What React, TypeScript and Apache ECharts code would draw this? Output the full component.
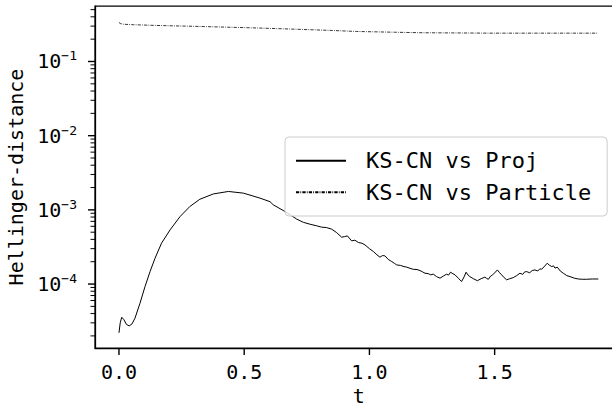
import React, { useEffect, useRef } from "react";
import * as echarts from "echarts";

// ---- data ----
const tProj = [
  0.000, 0.005, 0.011, 0.020, 0.030, 0.041, 0.052, 0.064, 0.084, 0.104,
  0.124, 0.144, 0.170, 0.204, 0.244, 0.283, 0.323, 0.377, 0.437, 0.497,
  0.563, 0.603, 0.616, 0.663, 0.690, 0.710, 0.736, 0.763, 0.789, 0.809,
  0.829, 0.849, 0.869, 0.889, 0.900, 0.912, 0.929, 0.942, 0.956, 0.970,
  0.982, 1.000, 1.016, 1.030, 1.042, 1.052, 1.062, 1.075, 1.089, 1.100,
  1.109, 1.125, 1.138, 1.149, 1.162, 1.175, 1.190, 1.202, 1.212, 1.222,
  1.235, 1.245, 1.255, 1.268, 1.282, 1.295, 1.308, 1.316, 1.324, 1.333,
  1.342, 1.355, 1.368, 1.378, 1.386, 1.394, 1.401, 1.415, 1.431, 1.446,
  1.461, 1.468, 1.475, 1.484, 1.492, 1.503, 1.511, 1.520, 1.528, 1.538,
  1.548, 1.560, 1.574, 1.588, 1.601, 1.612, 1.620, 1.628, 1.640, 1.650,
  1.661, 1.672, 1.680, 1.688, 1.700, 1.710, 1.718, 1.728, 1.735, 1.741,
  1.750, 1.762, 1.774, 1.788, 1.801, 1.818, 1.834, 1.850, 1.867, 1.890,
  1.914,
];
const hdProj = [
  2.2e-5, 3.0e-5, 3.57e-5, 3.3e-5, 2.85e-5, 2.73e-5, 2.9e-5, 3.47e-5, 5.52e-5, 9.25e-5,
  1.47e-4, 2.23e-4, 3.56e-4, 5.37e-4, 8.13e-4, 1.11e-3, 1.39e-3, 1.64e-3, 1.77e-3, 1.68e-3,
  1.44e-3, 1.29e-3, 1.17e-3, 9.5e-4, 8.3e-4, 7.5e-4, 6.8e-4, 6.4e-4, 6.1e-4, 5.85e-4,
  5.77e-4, 5.5e-4, 4.94e-4, 4.28e-4, 4.35e-4, 4.46e-4, 3.82e-4, 3.9e-4, 3.63e-4, 3.55e-4,
  3.38e-4, 3.0e-4, 2.74e-4, 2.48e-4, 2.3e-4, 2.42e-4, 2.4e-4, 2.15e-4, 2.01e-4, 1.9e-4,
  1.81e-4, 1.78e-4, 1.72e-4, 1.69e-4, 1.63e-4, 1.58e-4, 1.57e-4, 1.52e-4, 1.46e-4, 1.4e-4,
  1.38e-4, 1.33e-4, 1.36e-4, 1.26e-4, 1.2e-4, 1.28e-4, 1.36e-4, 1.32e-4, 1.445e-4, 1.38e-4,
  1.33e-4, 1.2e-4, 1.08e-4, 1.25e-4, 1.445e-4, 1.32e-4, 1.26e-4, 1.18e-4, 1.11e-4, 1.18e-4,
  1.24e-4, 1.19e-4, 1.16e-4, 1.28e-4, 1.33e-4, 1.45e-4, 1.55e-4, 1.42e-4, 1.33e-4, 1.22e-4,
  1.14e-4, 1.18e-4, 1.22e-4, 1.3e-4, 1.4e-4, 1.35e-4, 1.46e-4, 1.47e-4, 1.42e-4, 1.52e-4,
  1.55e-4, 1.5e-4, 1.6e-4, 1.585e-4, 1.75e-4, 1.91e-4, 1.8e-4, 1.72e-4, 1.76e-4, 1.64e-4,
  1.69e-4, 1.5e-4, 1.4e-4, 1.3e-4, 1.26e-4, 1.2e-4, 1.17e-4, 1.16e-4, 1.16e-4, 1.17e-4,
  1.17e-4,
];
const tPart = [
  0.000, 0.005, 0.017, 0.058, 0.150, 0.300, 0.416, 0.550, 0.682, 0.850,
  0.948, 1.100, 1.214, 1.400, 1.480, 1.914,
];
const hdPart = [
  0.336, 0.325, 0.318, 0.313, 0.306, 0.298, 0.291, 0.283, 0.274, 0.262,
  0.254, 0.248, 0.244, 0.242, 0.241, 0.241,
];
const seriesNames = ["KS-CN vs Proj", "KS-CN vs Particle"];
const xTicks = [0.0, 0.5, 1.0, 1.5];
const yMajorTicks = [1e-4, 1e-3, 1e-2, 1e-1];
const yMinorTicks = [-5, -4, -3, -2, -1].flatMap((e) =>
  [2, 3, 4, 5, 6, 7, 8, 9].map((k) => k * Math.pow(10, e))
);

const FONT = "DejaVu Sans Mono";
const X_MIN = -0.0957;
const X_MAX = 2.0097;
const Y_MIN = Math.pow(10, -4.862);
const Y_MAX = Math.pow(10, -0.252);

export default function App() {
  const ref = useRef<HTMLDivElement>(null);
  useEffect(() => {
    if (!ref.current) return;
    const chart = echarts.init(ref.current, undefined, { renderer: "svg" });
    chart.setOption({
      animation: false,
      backgroundColor: "#ffffff",
      textStyle: { fontFamily: FONT, color: "#000" },
      grid: {
        left: 95,
        right: -10.3,
        top: 6,
        bottom: 57,
        show: true,
        borderColor: "#000",
        borderWidth: 1.25,
        containLabel: false,
        outerBoundsMode: "none",
      },
      legend: {
        orient: "vertical",
        left: 285,
        top: 137,
        padding: [11.7, 16, 11.7, 10],
        itemWidth: 50,
        itemHeight: 2,
        itemGap: 7.6,
        backgroundColor: "rgba(255,255,255,0.8)",
        borderColor: "#cccccc",
        borderWidth: 1,
        borderRadius: 4,
        data: seriesNames,
        itemStyle: { color: "rgba(0,0,0,0)", borderWidth: 0, opacity: 0 },
        textStyle: {
          fontFamily: FONT,
          fontSize: 22,
          lineHeight: 24,
          color: "#000",
          padding: [0, 0, 0, 15],
        },
      },
      xAxis: {
        type: "value",
        min: X_MIN,
        max: X_MAX,
        name: "t",
        nameLocation: "middle",
        nameGap: 35,
        nameTextStyle: { fontFamily: FONT, fontSize: 20, lineHeight: 20, color: "#000" },
        axisLine: { show: true, onZero: false, lineStyle: { color: "#000", width: 1.25 } },
        axisTick: { show: false },
        axisLabel: {
          customValues: xTicks,
          margin: 13.5,
          fontFamily: FONT,
          fontSize: 20,
          color: "#000",
          formatter: (v: number) => v.toFixed(1),
        },
        splitLine: { show: false },
      },
      yAxis: {
        type: "log",
        min: Y_MIN,
        max: Y_MAX,
        name: "Hellinger-distance",
        nameLocation: "middle",
        nameGap: 62,
        nameTextStyle: { fontFamily: FONT, fontSize: 20, color: "#000" },
        axisLine: { show: true, onZero: false, lineStyle: { color: "#000", width: 1.25 } },
        axisTick: { show: false },
        axisLabel: {
          customValues: yMajorTicks,
          margin: 18,
          formatter: (v: number) =>
            `{b|10}{s|\u2212${Math.round(-Math.log10(v))}}`,
          rich: {
            b: { fontFamily: FONT, fontSize: 20, lineHeight: 24, color: "#000" },
            s: {
              fontFamily: FONT,
              fontSize: 13,
              lineHeight: 13,
              verticalAlign: "top",
              color: "#000",
            },
          },
        },
        splitLine: { show: false },
      },
      series: [
        {
          name: seriesNames[0],
          type: "line",
          symbol: "none",
          data: tProj.map((t, i) => [t, hdProj[i]]),
          lineStyle: { color: "#000", width: 1.0 },
          itemStyle: { color: "#000" },
        },
        {
          name: seriesNames[1],
          type: "line",
          symbol: "none",
          data: tPart.map((t, i) => [t, hdPart[i]]),
          lineStyle: { color: "#000", width: 0.8, type: [3.2, 1.2, 0.8, 1.2] },
          itemStyle: { color: "#000" },
        },
      ],
    });

    // tick marks positioned through the chart's own scales
    const px = (x: number, y: number) =>
      chart.convertToPixel({ xAxisIndex: 0, yAxisIndex: 0 }, [x, y]) as number[];
    const ticks: any[] = [];
    xTicks.forEach((v) => {
      const p = px(v, Y_MIN);
      ticks.push({
        type: "line",
        shape: { x1: p[0], y1: p[1], x2: p[0], y2: p[1] + 7 },
        style: { stroke: "#000", lineWidth: 1.4 },
        silent: true,
      });
    });
    yMajorTicks.forEach((v) => {
      const p = px(X_MIN, v);
      ticks.push({
        type: "line",
        shape: { x1: p[0], y1: p[1], x2: p[0] - 7, y2: p[1] },
        style: { stroke: "#000", lineWidth: 1.4 },
        silent: true,
      });
    });
    yMinorTicks
      .filter((v) => v >= Y_MIN && v <= Y_MAX)
      .forEach((v) => {
        const p = px(X_MIN, v);
        ticks.push({
          type: "line",
          shape: { x1: p[0], y1: p[1], x2: p[0] - 4.5, y2: p[1] },
          style: { stroke: "#000", lineWidth: 1.0 },
          silent: true,
        });
      });
    chart.setOption({ graphic: { elements: ticks } });

    return () => chart.dispose();
  }, []);
  return (
    <div
      ref={ref}
      style={{ position: "fixed", left: 0, top: 0, width: 612, height: 405, background: "#fff" }}
    />
  );
}
